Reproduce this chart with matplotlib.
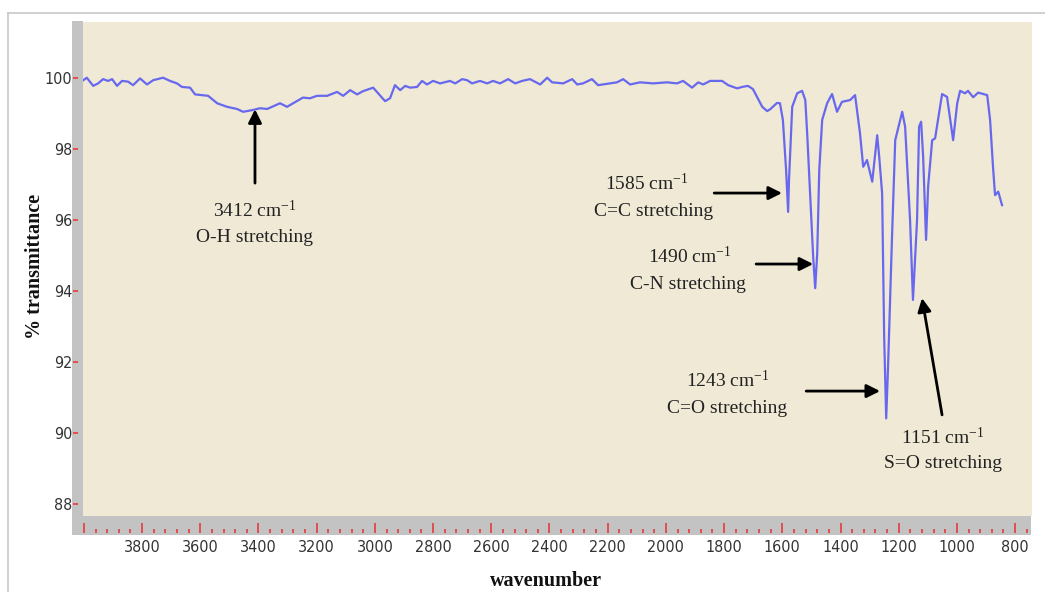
import matplotlib
matplotlib.use("Agg")
import matplotlib.pyplot as plt
from matplotlib import font_manager
from matplotlib.font_manager import FontProperties
from matplotlib.patches import Rectangle
from matplotlib.lines import Line2D
from matplotlib.ticker import FixedLocator, MultipleLocator, FuncFormatter

# ---------------- data ----------------
wavenumber = [4002, 3990, 3968, 3951, 3934, 3917, 3903, 3886, 3869, 3848, 3831, 3807, 3783, 3762,
              3728, 3704, 3680, 3663, 3635, 3618, 3573, 3542, 3508, 3474, 3453, 3419, 3395, 3370,
              3326, 3302, 3281, 3247, 3223, 3199, 3164, 3130, 3109, 3085, 3061, 3041, 3006, 2965,
              2948, 2931, 2913, 2896, 2879, 2855, 2838, 2821, 2800, 2776, 2742, 2724, 2700, 2683,
              2666, 2639, 2614, 2594, 2570, 2542, 2518, 2494, 2467, 2432, 2408, 2391, 2353, 2322,
              2305, 2285, 2254, 2233, 2192, 2168, 2147, 2123, 2089, 2044, 1996, 1962, 1941, 1910,
              1889, 1872, 1848, 1807, 1786, 1755, 1738, 1718, 1701, 1669, 1652, 1642, 1618, 1608,
              1598, 1587, 1580, 1577, 1566, 1549, 1532, 1521, 1514, 1504, 1494, 1487, 1480, 1473,
              1463, 1446, 1429, 1412, 1395, 1367, 1350, 1333, 1322, 1309, 1291, 1274, 1267, 1257,
              1250, 1243, 1237, 1223, 1212, 1188, 1178, 1161, 1151, 1137, 1130, 1123, 1116, 1106,
              1099, 1085, 1075, 1051, 1034, 1023, 1013, 999, 989, 972, 962, 944, 927, 896, 886,
              876, 869, 858, 845]
transmittance = [99.94, 100.01, 99.78, 99.85, 99.97, 99.92, 99.97, 99.78, 99.92, 99.90, 99.80, 99.99,
                 99.82, 99.94, 100.01, 99.92, 99.85, 99.75, 99.73, 99.54, 99.50, 99.29, 99.19, 99.13,
                 99.05, 99.10, 99.15, 99.13, 99.29, 99.19, 99.29, 99.45, 99.43, 99.50, 99.50, 99.61,
                 99.50, 99.66, 99.54, 99.63, 99.73, 99.35, 99.43, 99.80, 99.66, 99.78, 99.73, 99.75,
                 99.92, 99.82, 99.92, 99.85, 99.92, 99.85, 99.97, 99.94, 99.85, 99.92, 99.85, 99.92,
                 99.85, 99.97, 99.85, 99.92, 99.97, 99.82, 100.01, 99.88, 99.85, 99.97, 99.82, 99.85,
                 99.97, 99.80, 99.85, 99.88, 99.97, 99.82, 99.88, 99.85, 99.88, 99.85, 99.92, 99.73,
                 99.88, 99.82, 99.92, 99.92, 99.80, 99.71, 99.75, 99.78, 99.69, 99.19, 99.07, 99.12,
                 99.30, 99.29, 98.82, 97.41, 96.23, 97.13, 99.19, 99.57, 99.64, 99.38, 98.35, 96.66,
                 94.97, 94.08, 95.07, 97.41, 98.82, 99.29, 99.55, 99.05, 99.33, 99.38, 99.52, 98.44,
                 97.50, 97.69, 97.08, 98.39, 97.78, 96.75, 92.71, 90.41, 91.77, 95.53, 98.25, 99.05,
                 98.63, 96.00, 93.75, 96.00, 98.63, 98.77, 97.78, 95.44, 96.94, 98.25, 98.30, 99.55,
                 99.47, 98.82, 98.25, 99.29, 99.64, 99.57, 99.64, 99.46, 99.59, 99.52, 98.82, 97.50,
                 96.70, 96.80, 96.42]

x_major_ticks = list(range(4000, 799, -200))
y_ticks = [88, 90, 92, 94, 96, 98, 100]

peak_values = ["3412", "1585", "1490", "1243", "1151"]
peak_names = ["O-H stretching", "C=C stretching", "C-N stretching", "C=O stretching", "S=O stretching"]

# annotation layout: (arrow tail, arrow head, value-text pos, name-text pos) in data coords
ann_layout = [
    ((3412, 97.04), (3412, 99.12), (3412, 96.28), (3412, 95.52)),
    ((1834, 96.76), (1601, 96.76), (2065, 97.02), (2041, 96.25)),
    ((1690, 94.76), (1494, 94.76), (1917, 94.96), (1924, 94.17)),
    ((1518, 91.18), (1264, 91.18), (1786, 91.47), (1790, 90.68)),
    ((1051, 90.51), (1120, 93.80), (1048, 89.86), (1048, 89.15)),
]

# ---------------- fonts ----------------
tick_fp = None
cands = []
for f in font_manager.fontManager.ttflist:
    nm = (f.name or "") + " " + (f.fname or "")
    cond = ("Narrow" in nm or "Condensed" in nm or "condensed" in str(f.stretch))
    if cond and f.style == "normal" and str(f.weight) in ("400", "normal", "regular"):
        if "Serif" not in nm and "Mono" not in nm:
            cands.append(f)
if cands:
    tick_fp = FontProperties(fname=cands[0].fname, size=11.5)
else:
    tick_fp = FontProperties(family="Liberation Sans", size=10.5)

serif = "Liberation Serif"
plt.rcParams["mathtext.fontset"] = "custom"
plt.rcParams["mathtext.rm"] = serif
plt.rcParams["mathtext.it"] = serif + ":italic"
plt.rcParams["mathtext.bf"] = serif + ":bold"

W, H = 1045, 592
fig = plt.figure(figsize=(W / 100, H / 100), dpi=100)
fig.patch.set_facecolor("white")

x0, x1, yt, yb = 83, 1032, 22, 516
ax = fig.add_axes([x0 / W, 1 - yb / H, (x1 - x0) / W, (yb - yt) / H])
ax.set_facecolor("#EFE9D5")

grey = "#C3C3C3"
fig.add_artist(Rectangle((72 / W, 1 - 535 / H), 11 / W, 514 / H, transform=fig.transFigure,
                         facecolor=grey, edgecolor="none", zorder=-1))
fig.add_artist(Rectangle((72 / W, 1 - 535 / H), (1031 - 72) / W, 19 / H, transform=fig.transFigure,
                         facecolor=grey, edgecolor="none", zorder=-1))

fig.add_artist(Line2D([8 / W, 1.0], [1 - 13 / H, 1 - 13 / H], transform=fig.transFigure,
                      color="#C8C8C8", lw=1.2))
fig.add_artist(Line2D([8 / W, 8 / W], [1 - 13 / H, 0], transform=fig.transFigure,
                      color="#C8C8C8", lw=1.2))

ax.plot(wavenumber, transmittance, color="#6868EE", lw=1.6, solid_joinstyle="round")

ax.set_xlim(4003, 742)
ax.set_ylim(87.66, 101.58)

for s in ax.spines.values():
    s.set_visible(False)

px = 0.72
ax.spines["left"].set_position(("outward", 5 * px))
ax.spines["bottom"].set_position(("outward", 17 * px))

ax.xaxis.set_major_locator(FixedLocator(x_major_ticks))
ax.xaxis.set_major_formatter(FuncFormatter(lambda v, p: "" if round(v) == 4000 else str(int(round(v)))))
ax.xaxis.set_minor_locator(MultipleLocator(40))
ax.yaxis.set_major_locator(FixedLocator(y_ticks))
ax.yaxis.set_major_formatter(FuncFormatter(lambda v, p: str(int(round(v)))))

tick_red = "#E04848"
ax.tick_params(axis="x", which="major", direction="in", length=10 * px, width=1.3,
               color=tick_red, pad=5, labelcolor="#333333")
ax.tick_params(axis="x", which="minor", direction="in", length=4 * px, width=1.3, color=tick_red)
ax.tick_params(axis="y", which="major", direction="out", length=5 * px, width=1.3,
               color=tick_red, pad=0.5, labelcolor="#333333")
for lab in ax.get_xticklabels() + ax.get_yticklabels():
    lab.set_fontproperties(tick_fp)

fig.text(546 / W, 1 - 581 / H, "wavenumber", ha="center", va="center",
         family=serif, weight="bold", fontsize=14.5, color="#111111")
fig.text(35 / W, 1 - 266 / H, "% transmittance", ha="center", va="center", rotation=90,
         family=serif, weight="bold", fontsize=14.5, color="#111111")

txt_color = "#222222"
for val, name, (tail, head, vpos, npos) in zip(peak_values, peak_names, ann_layout):
    ax.annotate("", xy=head, xytext=tail,
                arrowprops=dict(arrowstyle="-|>", color="black", lw=2.0,
                                mutation_scale=20, shrinkA=0, shrinkB=0))
    ax.text(vpos[0], vpos[1], val + r" cm$^{\mathrm{-1}}$", ha="center", va="center",
            family=serif, fontsize=14, color=txt_color)
    ax.text(npos[0], npos[1], name, ha="center", va="center",
            family=serif, fontsize=14, color=txt_color)

fig.savefig("out.png", dpi=100, facecolor="white")
